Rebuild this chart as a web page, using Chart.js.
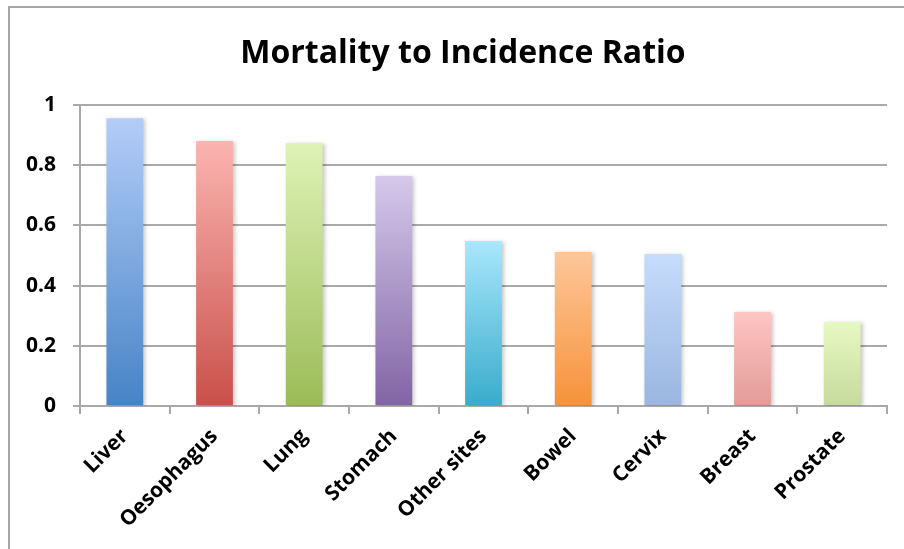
<!DOCTYPE html>
<html>
<head>
<meta charset="utf-8">
<title>Mortality to Incidence Ratio</title>
<script src="https://cdn.jsdelivr.net/npm/chart.js@4.4.1/dist/chart.umd.min.js"></script>
<style>
  html, body { margin: 0; padding: 0; background: #ffffff; }
  #chart { display: block; }
</style>
</head>
<body>
<canvas id="chart" width="904" height="549"></canvas>
<script>
// Cancer sites and their mortality / incidence ratio
const sites = ['Liver', 'Oesophagus', 'Lung', 'Stomach', 'Other sites', 'Bowel', 'Cervix', 'Breast', 'Prostate'];
const ratios = [0.956, 0.880, 0.874, 0.764, 0.548, 0.512, 0.505, 0.312, 0.279];
const yTicks = [0, 0.2, 0.4, 0.6, 0.8, 1];

// Office-style palette: light tint at the top of each bar, full colour at the base
const topColors = ['#b3cdf8', '#fbb4b0', '#def3b6', '#d6c8ea', '#a9e7fc', '#fec799', '#c6dcfc', '#fec6c3', '#e7f9c2'];
const baseColors = ['#4683c6', '#c9504a', '#9bbb57', '#8164a5', '#39abcb', '#f6923a', '#9ab5df', '#e39b98', '#c5da9c'];

const FONT = '"Open Sans", Lato, sans-serif';
const GRID = '#a9a9a9';

function barFill(context) {
  const i = context.dataIndex;
  if (i === undefined) return baseColors[0];
  const chart = context.chart;
  const y = chart.scales.y;
  if (!chart.chartArea || !y) return baseColors[i];
  const top = y.getPixelForValue(context.parsed ? context.parsed.y : ratios[i]);
  const bottom = y.getPixelForValue(0);
  const g = chart.ctx.createLinearGradient(0, top, 0, bottom);
  g.addColorStop(0, topColors[i]);
  g.addColorStop(1, baseColors[i]);
  return g;
}

// soft drop shadow behind the bars
const barShadow = {
  id: 'barShadow',
  beforeDatasetsDraw(chart) {
    const c = chart.ctx;
    c.save();
    c.shadowColor = 'rgba(0, 0, 0, 0.22)';
    c.shadowBlur = 4;
    c.shadowOffsetX = 2;
    c.shadowOffsetY = 1;
  },
  afterDatasetsDraw(chart) {
    chart.ctx.restore();
  }
};

// title and the outer frame of the chart object
const frameAndTitle = {
  id: 'frameAndTitle',
  afterDraw(chart) {
    const c = chart.ctx;
    c.save();
    c.strokeStyle = '#a6a6a6';
    c.lineWidth = 2;
    c.beginPath();
    c.moveTo(9, chart.height);
    c.lineTo(9, 7);
    c.lineTo(chart.width, 7);
    c.stroke();

    c.fillStyle = '#000000';
    c.font = 'bold 32px ' + FONT;
    c.textAlign = 'center';
    c.textBaseline = 'alphabetic';
    c.fillText('Mortality to Incidence Ratio', 463, 63);
    c.restore();
  }
};

new Chart(document.getElementById('chart'), {
  type: 'bar',
  data: {
    labels: sites,
    datasets: [{
      data: ratios,
      backgroundColor: barFill,
      borderWidth: 0,
      barPercentage: 0.41,
      categoryPercentage: 1.0
    }]
  },
  options: {
    responsive: false,
    animation: false,
    layout: { padding: { top: 105, left: 0, right: 17, bottom: 0 } },
    plugins: {
      legend: { display: false },
      tooltip: { enabled: false },
      title: { display: false }
    },
    scales: {
      x: {
        grid: {
          display: true,
          drawOnChartArea: false,
          drawTicks: true,
          tickLength: 8,
          color: GRID,
          lineWidth: 2
        },
        border: { display: true, color: GRID, width: 2 },
        ticks: {
          minRotation: 45,
          maxRotation: 45,
          autoSkip: false,
          padding: 10,
          color: '#000000',
          font: { family: FONT, size: 21, weight: 'bold' }
        },
        afterFit(scale) { scale.height = 143; }
      },
      y: {
        min: 0,
        max: 1,
        afterBuildTicks(scale) {
          scale.ticks = yTicks.map(v => ({ value: v }));
        },
        grid: {
          color: GRID,
          lineWidth: 2,
          drawTicks: true,
          tickLength: 7
        },
        border: { display: true, color: GRID, width: 2 },
        ticks: {
          padding: 17,
          color: '#000000',
          font: { family: FONT, size: 21, weight: 'bold' },
          callback: (v) => String(Math.round(v * 10) / 10)
        },
        afterFit(scale) { scale.width = 80; }
      }
    }
  },
  plugins: [barShadow, frameAndTitle]
});
</script>
</body>
</html>
